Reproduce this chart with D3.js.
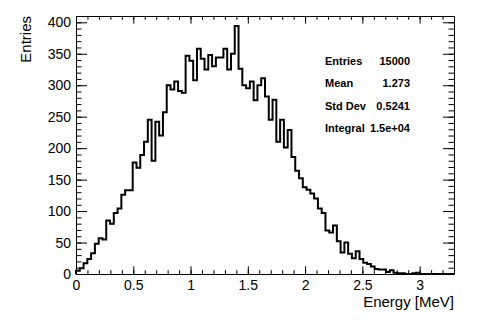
<!DOCTYPE html>
<html>
<head>
  <meta charset="UTF-8">
	<style>
		body { margin: 0; background: white; }
		.axis-marks text { font-family: 'Liberation Sans', Arial, sans-serif; font-size: 14px; fill: black; }
		.axis-label { font-family: 'Liberation Sans', Arial, sans-serif; font-size: 15px; fill: black; }
		.stat-text { font-family: 'Liberation Sans', Arial, sans-serif; font-size: 11px; font-weight: bold; fill: black; }
	</style>
</head>
<body>
	<script src="https://d3js.org/d3.v7.min.js"></script>
	<svg id="hist" width="478" height="326"></svg>
	<script>
		// histogram: 100 bins between 0 and 3.3 MeV
		let binLow = 0, binHigh = 3.3;
		let counts = [
			5, 9, 17, 24, 33, 48, 57, 55, 85, 80,
			97, 104, 126, 133, 133, 177, 169, 189, 210, 245,
			180, 242, 220, 257, 300, 293, 306, 291, 288, 347,
			339, 308, 358, 342, 325, 348, 330, 344, 344, 358,
			325, 350, 394, 326, 300, 295, 306, 276, 300, 311,
			282, 245, 277, 210, 245, 201, 229, 186, 164, 152,
			138, 134, 128, 120, 104, 97, 69, 66, 77, 52,
			34, 50, 32, 25, 36, 24, 18, 16, 12, 8,
			7, 7, 3, 6, 2, 1, 1, 0, 0, 1,
			2, 0, 0, 0, 0, 0, 0, 0, 0, 0
		];
		let xTicks = [0, 0.5, 1, 1.5, 2, 2.5, 3];
		let yTicks = [0, 50, 100, 150, 200, 250, 300, 350, 400];
		let statNames = ["Entries", "Mean", "Std Dev", "Integral"];
		let statValues = ["15000", "1.273", "0.5241", "1.5e+04"];

		let margin = {top: 16, right: 24, bottom: 52, left: 76},
			width = 478 - margin.left - margin.right,
			height = 326 - margin.top - margin.bottom;

		let svg = d3.select("#hist")
			.append("g")
				.attr("transform", "translate(" + margin.left + "," + margin.top + ")");

		let x = d3.scaleLinear().domain([binLow, binHigh]).range([0, width]);
		let y = d3.scaleLinear().domain([0, 410]).range([height, 0]);

		let binWidth = (binHigh - binLow) / counts.length;

		// minor ticks first (no labels)
		let xMinor = d3.range(0, 33).map(i => i / 10);
		let yMinor = d3.range(0, 42).map(i => i * 10);

		svg.append("g")
			.attr("transform", "translate(0," + height + ")")
			.call(d3.axisBottom(x).tickValues(xMinor).tickSize(-3.8).tickFormat(""))
			.call(g => g.select(".domain").remove());
		svg.append("g")
			.call(d3.axisTop(x).tickValues(xMinor).tickSize(-3.8).tickFormat(""))
			.call(g => g.select(".domain").remove());
		svg.append("g")
			.call(d3.axisLeft(y).tickValues(yMinor).tickSize(-5.5).tickFormat(""))
			.call(g => g.select(".domain").remove());
		svg.append("g")
			.attr("transform", "translate(" + width + ",0)")
			.call(d3.axisRight(y).tickValues(yMinor).tickSize(-5.5).tickFormat(""))
			.call(g => g.select(".domain").remove());

		// major ticks and labels
		svg.append("g")
			.attr("class", "axis-marks")
			.attr("transform", "translate(0," + height + ")")
			.call(d3.axisBottom(x).tickValues(xTicks).tickSize(-7.7).tickSizeOuter(0).tickPadding(3).tickFormat(d3.format("")))
			.call(g => g.selectAll("text").attr("dy", "0.9em"));
		svg.append("g")
			.call(d3.axisTop(x).tickValues(xTicks).tickSize(-7.7).tickSizeOuter(0).tickFormat(""));
		svg.append("g")
			.attr("class", "axis-marks")
			.call(d3.axisLeft(y).tickValues(yTicks).tickSize(-11).tickSizeOuter(0).tickPadding(5));
		svg.append("g")
			.attr("transform", "translate(" + width + ",0)")
			.call(d3.axisRight(y).tickValues(yTicks).tickSize(-11).tickSizeOuter(0).tickFormat(""));

		svg.selectAll(".tick line").attr("stroke", "black");
		svg.selectAll(".domain").attr("stroke", "black");

		// histogram outline
		let pts = [[binLow, 0]];
		counts.forEach((c, i) => pts.push([binLow + i * binWidth, c]));
		pts.push([binHigh, 0]);

		svg.append("path")
			.datum(pts)
			.attr("fill", "none")
			.attr("stroke", "black")
			.attr("stroke-width", 2)
			.attr("d", d3.line()
				.x(d => x(d[0]))
				.y(d => y(d[1]))
				.curve(d3.curveStepAfter));

		// axis titles
		svg.append("text")
			.attr("class", "axis-label")
			.attr("text-anchor", "end")
			.attr("x", width)
			.attr("y", height + 33)
			.text("Energy [MeV]");
		svg.append("text")
			.attr("class", "axis-label")
			.attr("text-anchor", "end")
			.attr("transform", "rotate(-90)")
			.attr("x", 0)
			.attr("y", -45)
			.text("Entries");

		// stats box
		let stats = svg.append("g");
		statNames.forEach((s, i) => {
			stats.append("text")
				.attr("class", "stat-text")
				.attr("x", 325 - margin.left)
				.attr("y", 61 - margin.top + i * 22.5)
				.attr("dy", "0.35em")
				.text(s);
			stats.append("text")
				.attr("class", "stat-text")
				.attr("text-anchor", "end")
				.attr("x", 410 - margin.left)
				.attr("y", 61 - margin.top + i * 22.5)
				.attr("dy", "0.35em")
				.text(statValues[i]);
		});
	</script>
</body>
</html>
